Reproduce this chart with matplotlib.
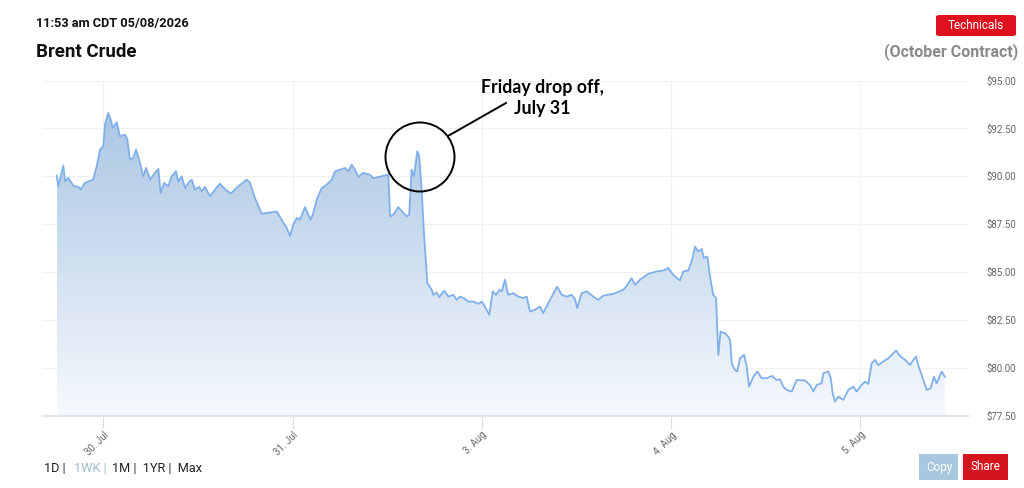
import matplotlib
matplotlib.use("Agg")
import matplotlib.pyplot as plt
import numpy as np
from matplotlib.colors import LinearSegmentedColormap
from matplotlib.patches import Ellipse, FancyBboxPatch, Rectangle

plt.rcParams['font.family'] = ['Roboto', 'DejaVu Sans']

# trading days since 30 Jul (gaps between sessions skipped), price in USD
t_days = [-0.246, -0.238, -0.211, -0.202, -0.185, -0.158, -0.132, -0.119, -0.097, -0.053,
          -0.035, -0.017, 0.000, 0.009, 0.026, 0.039, 0.050, 0.071, 0.088, 0.115,
          0.127, 0.141, 0.158, 0.173, 0.194, 0.211, 0.226, 0.247, 0.273, 0.291,
          0.303, 0.321, 0.343, 0.361, 0.384, 0.396, 0.414, 0.432, 0.449, 0.467,
          0.484, 0.507, 0.520, 0.537, 0.564, 0.590, 0.616, 0.643, 0.673, 0.713,
          0.758, 0.775, 0.801, 0.837, 0.916, 0.942, 0.969, 0.986, 1.004, 1.022,
          1.039, 1.066, 1.083, 1.096, 1.109, 1.130, 1.154, 1.180, 1.207, 1.224,
          1.250, 1.277, 1.294, 1.312, 1.330, 1.347, 1.373, 1.409, 1.426, 1.506,
          1.515, 1.532, 1.558, 1.585, 1.603, 1.616, 1.629, 1.641, 1.659, 1.669,
          1.682, 1.694, 1.712, 1.735, 1.743, 1.761, 1.775, 1.801, 1.823, 1.849,
          1.867, 1.884, 1.905, 1.928, 1.955, 1.981, 1.999, 2.016, 2.039, 2.057,
          2.074, 2.092, 2.105, 2.122, 2.139, 2.166, 2.192, 2.219, 2.237, 2.254,
          2.280, 2.307, 2.324, 2.342, 2.369, 2.398, 2.422, 2.448, 2.474, 2.492,
          2.504, 2.527, 2.554, 2.588, 2.615, 2.641, 2.694, 2.747, 2.765, 2.791,
          2.809, 2.835, 2.879, 2.923, 2.958, 2.985, 3.003, 3.020, 3.046, 3.064,
          3.090, 3.108, 3.126, 3.143, 3.161, 3.173, 3.191, 3.205, 3.222, 3.237,
          3.249, 3.261, 3.284, 3.301, 3.311, 3.320, 3.337, 3.349, 3.363, 3.385,
          3.399, 3.411, 3.434, 3.455, 3.478, 3.505, 3.531, 3.557, 3.575, 3.592,
          3.610, 3.637, 3.663, 3.707, 3.733, 3.751, 3.769, 3.795, 3.804, 3.830,
          3.843, 3.853, 3.865, 3.883, 3.909, 3.936, 3.962, 3.980, 4.006, 4.024,
          4.041, 4.059, 4.077, 4.094, 4.120, 4.147, 4.165, 4.188, 4.209, 4.235,
          4.262, 4.279, 4.293, 4.305, 4.323, 4.350, 4.371, 4.388, 4.402, 4.429,
          4.446]
price = [90.04, 89.48, 90.56, 89.74, 89.92, 89.51, 89.45, 89.31, 89.66, 89.83,
         90.52, 91.40, 91.57, 92.70, 93.31, 92.96, 92.53, 92.82, 92.09, 92.18,
         91.92, 90.87, 90.96, 91.40, 90.70, 90.00, 90.44, 89.83, 90.18, 90.39,
         89.13, 89.66, 89.48, 90.00, 90.26, 89.74, 90.00, 89.39, 89.66, 89.83,
         89.31, 89.45, 89.22, 89.45, 88.96, 89.31, 89.62, 89.34, 89.10, 89.48,
         89.83, 89.66, 88.87, 88.05, 88.17, 87.74, 87.31, 86.90, 87.48, 87.83,
         87.74, 88.40, 88.00, 87.74, 88.09, 88.87, 89.39, 89.57, 89.83, 90.26,
         90.35, 90.44, 90.26, 90.61, 90.35, 89.97, 90.18, 90.09, 89.90, 90.09,
         87.91, 88.00, 88.40, 88.09, 87.91, 88.00, 90.35, 90.00, 91.31, 91.05,
         89.30, 87.04, 84.43, 84.08, 83.82, 83.94, 83.70, 84.04, 83.73, 83.82,
         83.56, 83.73, 83.65, 83.47, 83.47, 83.35, 83.47, 83.21, 82.78, 84.00,
         83.82, 84.08, 84.00, 84.61, 83.82, 83.91, 83.73, 83.65, 83.73, 82.95,
         83.04, 83.21, 82.87, 83.21, 83.73, 84.25, 83.82, 83.73, 83.82, 83.60,
         83.13, 83.91, 84.00, 83.73, 83.56, 83.78, 83.87, 84.08, 84.29, 84.69,
         84.34, 84.61, 84.92, 85.04, 85.09, 85.22, 84.96, 84.78, 84.57, 85.04,
         85.09, 85.56, 86.34, 86.08, 86.21, 85.74, 85.82, 84.78, 83.82, 83.65,
         80.69, 81.90, 81.82, 81.64, 81.47, 80.25, 79.90, 79.82, 80.51, 80.69,
         80.08, 79.03, 79.55, 79.82, 79.47, 79.47, 79.59, 79.38, 79.41, 79.03,
         78.86, 78.78, 79.38, 79.35, 79.12, 78.78, 79.12, 79.21, 79.73, 79.82,
         79.47, 78.69, 78.25, 78.51, 78.34, 78.86, 79.03, 78.78, 79.12, 79.29,
         79.17, 80.25, 80.43, 80.16, 80.34, 80.51, 80.69, 80.91, 80.63, 80.43,
         80.16, 80.43, 80.60, 80.16, 79.64, 78.86, 78.95, 79.55, 79.20, 79.82,
         79.55]

tick_days = [0, 1, 2, 3, 4]
tick_labels = ["30. Jul", "31. Jul", "3. Aug", "4. Aug", "5. Aug"]
y_ticks = [77.5, 80.0, 82.5, 85.0, 87.5, 90.0, 92.5, 95.0]

W, H = 1024, 488
fig = plt.figure(figsize=(W / 100, H / 100), dpi=100)
ax = fig.add_axes([43 / W, 1 - 416 / H, (968 - 43) / W, (416 - 80.5) / H])
ax.set_xlim(-0.3185, 4.568)
ax.set_ylim(77.5, 95)

# gradient area under the line
cmap = LinearSegmentedColormap.from_list("fade", ["#f6f9fd", "#a3c1e1"])
grad = np.linspace(0, 1, 256).reshape(-1, 1)
img = ax.imshow(grad, cmap=cmap, aspect="auto", origin="lower",
                extent=[min(t_days), max(t_days), 77.5, 95], zorder=1)
poly = ax.fill_between(t_days, price, 77.5, color="none", lw=0)
clip = poly.get_paths()[0]
img.set_clip_path(clip, transform=ax.transData)
ax.plot(t_days, price, color="#7fb0ea", lw=1.3, zorder=3)

ax.set_xticks(tick_days)
ax.set_xticklabels(tick_labels, rotation=45, ha="right", rotation_mode="anchor",
                   color="#666666", fontsize=7)
ax.set_yticks(y_ticks)
ax.set_yticklabels(["$%.2f" % v for v in y_ticks], color="#666666", fontsize=7)
ax.yaxis.tick_right()
ax.tick_params(axis="y", length=0, pad=13)
ax.tick_params(axis="x", length=9, color="#dddddd", pad=1)
ax.grid(True, color="#f0f0f0", lw=0.8, zorder=0)
ax.set_axisbelow(True)
for s in ["top", "left", "right"]:
    ax.spines[s].set_visible(False)
ax.spines["bottom"].set_color("#dfe4f2")
ax.spines["bottom"].set_linewidth(1.5)


def fx(px):
    return px / W


def fy(py):
    return 1 - py / H


# annotation
fig.add_artist(Ellipse((fx(420), fy(157)), 69 / W, 69 / H, transform=fig.transFigure,
                       fill=False, ec="black", lw=1.4, zorder=10))
fig.add_artist(plt.Line2D([fx(448), fx(506)], [fy(136), fy(103)], transform=fig.transFigure,
                          color="black", lw=1.4))
fig.text(fx(542), fy(98), "Friday drop off,\nJuly 31", ha="center", va="center",
         fontsize=12.8, fontweight="bold", family="Lato", linespacing=1.3)

# header
fig.text(fx(36), fy(24), "11:53 am CDT 05/08/2026", fontsize=9.2, fontweight="bold",
         va="center", color="#111111")
fig.text(fx(36), fy(52), "Brent Crude", fontsize=13.5, fontweight="bold", va="center",
         color="#111111")
fig.text(fx(1018), fy(52), "(October Contract)", fontsize=11.5, fontweight="bold",
         va="center", ha="right", color="#8a8a8a")
fig.add_artist(FancyBboxPatch((fx(936), fy(36)), 80 / W, 21 / H, transform=fig.transFigure,
                              boxstyle="round,pad=0,rounding_size=0.004", fc="#e0101e", ec="none"))
fig.text(fx(976), fy(25.5), "Technicals", fontsize=8.5, color="white", ha="center", va="center")

# footer
fig.text(fx(44), fy(469), "1D | ", fontsize=9.2, va="center", color="#222222")
fig.text(fx(74), fy(469), "1WK | ", fontsize=9.2, va="center", color="#9dbccc")
fig.text(fx(112), fy(469), "1M |  1YR |  Max", fontsize=9.2, va="center", color="#222222")
fig.add_artist(Rectangle((fx(919), fy(480)), 39 / W, 26 / H, transform=fig.transFigure,
                         fc="#a8c8e0", ec="none"))
fig.text(fx(939), fy(467), "Copy", fontsize=8.5, color="white", ha="center", va="center")
fig.add_artist(Rectangle((fx(963), fy(480)), 45 / W, 26 / H, transform=fig.transFigure,
                         fc="#d4141c", ec="none"))
fig.text(fx(985.5), fy(467), "Share", fontsize=8.5, color="white", ha="center", va="center")

fig.savefig("out.png", dpi=100)
